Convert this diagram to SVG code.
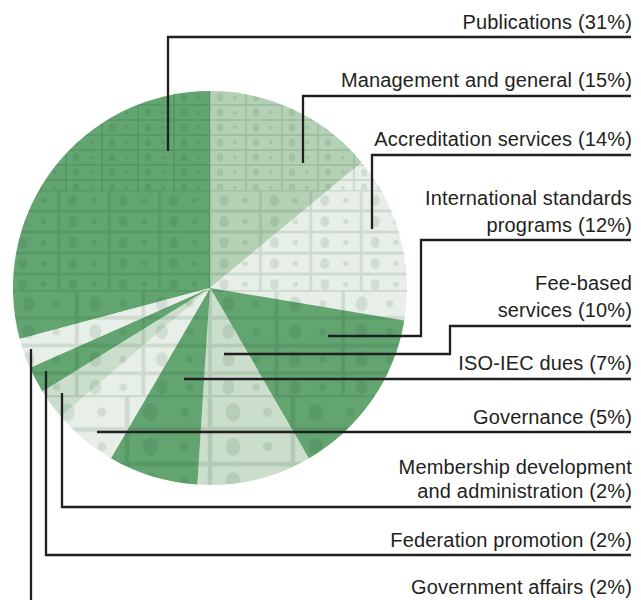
<svg xmlns="http://www.w3.org/2000/svg" width="641" height="600" viewBox="0 0 641 600">
<style>
.lbl{font-family:"Liberation Sans",Arial,sans-serif;font-size:20px;letter-spacing:0.15px;fill:#231f20;text-anchor:end}
.ld{fill:none;stroke:#231f20;stroke-width:2.3;stroke-linecap:butt;stroke-linejoin:miter}
.dark{fill:#62a571}
.mid{fill:#b4d1b6}
.pale{fill:#cadecb}
.white{fill:#e8efe8}
</style>
<defs>
<clipPath id="pieClip"><circle cx="210" cy="288" r="197"/></clipPath>
<g id="bill">
<rect x="0.5" y="0.5" width="35" height="14" fill="none" stroke="#0f3d1c" stroke-opacity="0.12" stroke-width="1"/>
<ellipse cx="10" cy="7.5" rx="3.2" ry="4" fill="#0f3d1c" fill-opacity="0.11"/>
<circle cx="25" cy="7.5" r="2" fill="#0f3d1c" fill-opacity="0.11"/>
</g>
<pattern id="pA" width="36" height="15" patternUnits="userSpaceOnUse" x="210" y="90"><use href="#bill"/></pattern>
<pattern id="pB" width="50.4" height="21" patternUnits="userSpaceOnUse" x="210" y="190"><use href="#bill" transform="scale(1.4)"/></pattern>
<pattern id="pC" width="66.6" height="27.75" patternUnits="userSpaceOnUse" x="210" y="290"><use href="#bill" transform="scale(1.85)"/></pattern>
<pattern id="pD" width="82.8" height="34.5" patternUnits="userSpaceOnUse" x="210" y="395"><use href="#bill" transform="scale(2.3)"/></pattern>
</defs>

<g id="pie">
<g id="slice-publications"><path class="dark" d="M210,288 L19.7,339 A197,197 0 0 1 210,91 Z"/></g>
<g id="slice-management"><path class="mid" d="M210,288 L210,91 A197,197 0 0 1 361.8,162.4 Z"/></g>
<g id="slice-accreditation"><path class="white" d="M210,288 L361.8,162.4 A197,197 0 0 1 404.3,320.5 Z"/></g>
<g id="slice-international"><path class="dark" d="M210,288 L404.3,320.5 A197,197 0 0 1 308.8,458.4 Z"/></g>
<g id="slice-feebased"><path class="pale" d="M210,288 L308.8,458.4 A197,197 0 0 1 197.3,484.6 Z"/></g>
<g id="slice-isoiec"><path class="dark" d="M210,288 L197.3,484.6 A197,197 0 0 1 110.9,458.3 Z"/></g>
<g id="slice-governance"><path class="white" d="M210,288 L110.9,458.3 A197,197 0 0 1 60.7,416.5 Z"/></g>
<g id="slice-membership"><path class="pale" d="M210,288 L60.7,416.5 A197,197 0 0 1 42.4,391.5 Z"/></g>
<g id="slice-federation"><path class="dark" d="M210,288 L42.4,391.5 A197,197 0 0 1 29.9,367.8 Z"/></g>
<g id="slice-government"><path class="white" d="M210,288 L29.9,367.8 A197,197 0 0 1 19.7,339 Z"/></g>
<g id="texture" clip-path="url(#pieClip)">
<rect x="0" y="88" width="420" height="102" fill="url(#pA)"/>
<rect x="0" y="190" width="420" height="100" fill="url(#pB)"/>
<rect x="0" y="290" width="420" height="105" fill="url(#pC)"/>
<rect x="0" y="395" width="420" height="95" fill="url(#pD)"/>
</g>
</g>

<g id="connectors">
<path class="ld" d="M631,37 H168 V151"/>
<path class="ld" d="M631,96 H303 V163"/>
<path class="ld" d="M631,155 H372 V229"/>
<path class="ld" d="M631,240 H421 V336 H328"/>
<path class="ld" d="M631,326 H450 V354 H224"/>
<path class="ld" d="M631,379 H184"/>
<path class="ld" d="M631,432 H97"/>
<path class="ld" d="M631,507 H62 V393"/>
<path class="ld" d="M631,555 H46 V371"/>
<path class="ld" d="M31,349 V600"/>
</g>

<g id="label-publications"><text class="lbl" x="632" y="29">Publications (31%)</text></g>
<g id="label-management"><text class="lbl" x="632" y="87">Management and general (15%)</text></g>
<g id="label-accreditation"><text class="lbl" x="632" y="146">Accreditation services (14%)</text></g>
<g id="label-international"><text class="lbl" x="632" y="205">International standards</text><text class="lbl" x="632" y="232">programs (12%)</text></g>
<g id="label-feebased"><text class="lbl" x="632" y="290">Fee-based</text><text class="lbl" x="632" y="317">services (10%)</text></g>
<g id="label-isoiec"><text class="lbl" x="632" y="370">ISO-IEC dues (7%)</text></g>
<g id="label-governance"><text class="lbl" x="632" y="424">Governance (5%)</text></g>
<g id="label-membership"><text class="lbl" x="632" y="474">Membership development</text><text class="lbl" x="632" y="498">and administration (2%)</text></g>
<g id="label-federation"><text class="lbl" x="632" y="547">Federation promotion (2%)</text></g>
<g id="label-government"><text class="lbl" x="632" y="594">Government affairs (2%)</text></g>
</svg>
